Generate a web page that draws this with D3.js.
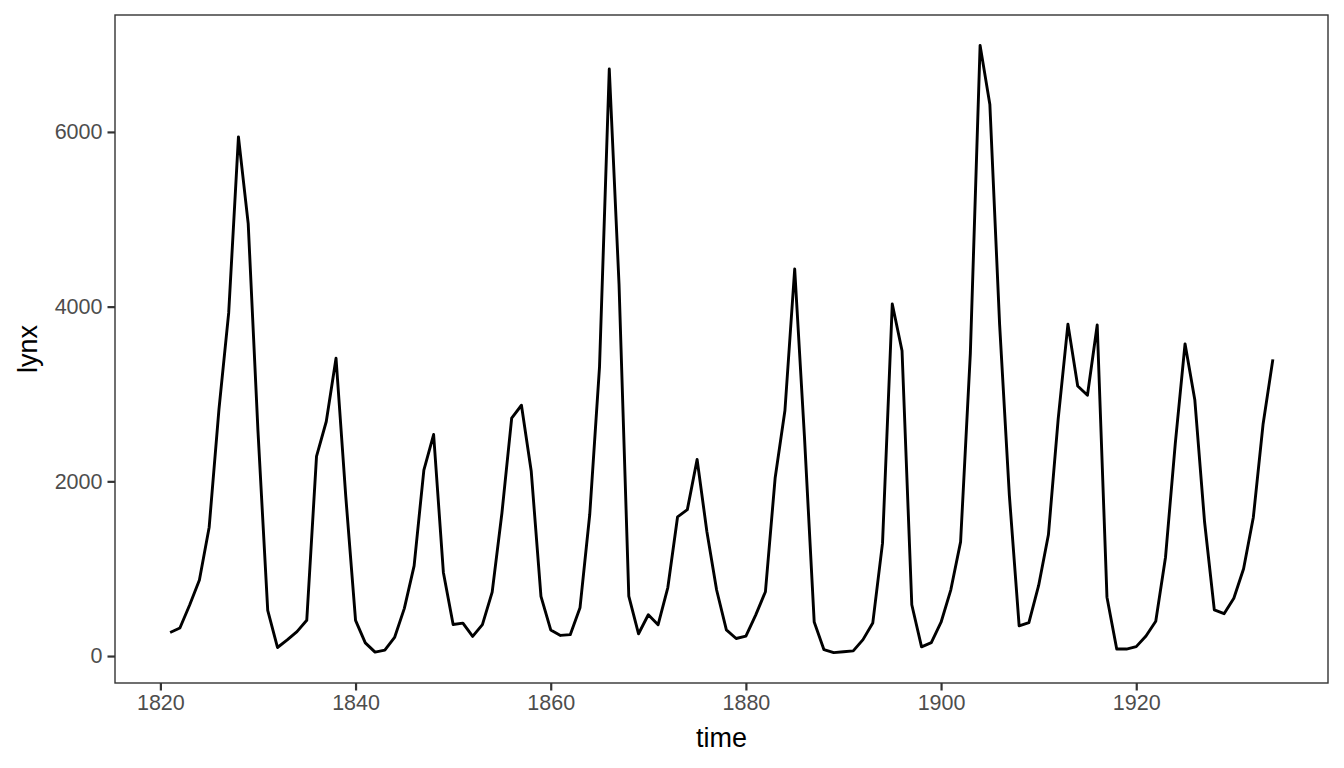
<!DOCTYPE html>
<html>
<head>
<meta charset="utf-8">
<script src="https://cdn.jsdelivr.net/npm/d3@7"></script>
<style>
  html, body { margin: 0; padding: 0; background: #ffffff; }
  svg { display: block; }
  text { font-family: "Liberation Sans", Arial, sans-serif; }
</style>
</head>
<body>
<svg id="chart" width="1344" height="768"></svg>
<script>
// Canadian lynx trappings, 1821-1934
const startYear = 1821;
const lynx = [
  269, 321, 585, 871, 1475, 2821, 3928, 5943, 4950, 2577,
  523, 98, 184, 279, 409, 2285, 2685, 3409, 1824, 409,
  151, 45, 68, 213, 546, 1033, 2129, 2536, 957, 361,
  377, 225, 360, 731, 1638, 2725, 2871, 2119, 684, 299,
  236, 245, 552, 1623, 3311, 6721, 4254, 687, 255, 473,
  358, 784, 1594, 1676, 2251, 1426, 756, 299, 201, 229,
  469, 736, 2042, 2811, 4431, 2511, 389, 73, 39, 49,
  59, 188, 377, 1292, 4031, 3495, 587, 105, 153, 387,
  758, 1307, 3465, 6991, 6313, 3794, 1836, 345, 382, 808,
  1388, 2713, 3800, 3091, 2985, 3790, 674, 81, 80, 108,
  229, 399, 1132, 2432, 3574, 2935, 1537, 529, 485, 662,
  1000, 1590, 2657, 3396
];
const years = lynx.map((_, i) => startYear + i);
const xTicks = [1820, 1840, 1860, 1880, 1900, 1920];
const yTicks = [0, 2000, 4000, 6000];
const xLabel = "time";
const yLabel = "lynx";

const panel = { left: 115, right: 1328, top: 15, bottom: 683 };

function expand(ext) {
  const d = (ext[1] - ext[0]) * 0.05;
  return [ext[0] - d, ext[1] + d];
}

const x = d3.scaleLinear().domain(expand(d3.extent(years))).range([panel.left, panel.right]);
const y = d3.scaleLinear().domain(expand(d3.extent(lynx))).range([panel.bottom, panel.top]);

const svg = d3.select("#chart");

svg.append("clipPath").attr("id", "clip")
  .append("rect")
  .attr("x", panel.left).attr("y", panel.top)
  .attr("width", panel.right - panel.left).attr("height", panel.bottom - panel.top);

const line = d3.line().x((d, i) => x(years[i])).y(d => y(d));
svg.append("path")
  .datum(lynx)
  .attr("clip-path", "url(#clip)")
  .attr("fill", "none")
  .attr("stroke", "#000000")
  .attr("stroke-width", 2.9)
  .attr("stroke-linejoin", "round")
  .attr("d", line);

// panel border
svg.append("rect")
  .attr("x", panel.left).attr("y", panel.top)
  .attr("width", panel.right - panel.left).attr("height", panel.bottom - panel.top)
  .attr("fill", "none").attr("stroke", "#333333").attr("stroke-width", 1.4);

// x axis
const xAxis = d3.axisBottom(x).tickValues(xTicks).tickFormat(d3.format("d")).tickSize(7.5).tickPadding(4);
const gx = svg.append("g").attr("transform", `translate(0,${panel.bottom})`).call(xAxis);
gx.select(".domain").remove();
gx.selectAll(".tick line").attr("stroke", "#333333").attr("stroke-width", 2.2);
gx.selectAll(".tick text").attr("fill", "#4D4D4D").style("font-size", "21.5px")
  .attr("font-family", "Liberation Sans, Arial, sans-serif");

// y axis
const yAxis = d3.axisLeft(y).tickValues(yTicks).tickFormat(d3.format("d")).tickSize(7.5).tickPadding(5);
const gy = svg.append("g").attr("transform", `translate(${panel.left},0)`).call(yAxis);
gy.select(".domain").remove();
gy.selectAll(".tick line").attr("stroke", "#333333").attr("stroke-width", 2.2);
gy.selectAll(".tick text").attr("fill", "#4D4D4D").style("font-size", "21.5px")
  .attr("font-family", "Liberation Sans, Arial, sans-serif");

// axis titles
svg.append("text")
  .attr("x", (panel.left + panel.right) / 2).attr("y", 747)
  .attr("text-anchor", "middle").attr("fill", "#000000")
  .style("font-size", "27px").text(xLabel);

svg.append("text")
  .attr("transform", `translate(37,${(panel.top + panel.bottom) / 2}) rotate(-90)`)
  .attr("text-anchor", "middle").attr("fill", "#000000")
  .style("font-size", "27px").text(yLabel);
</script>
</body>
</html>
